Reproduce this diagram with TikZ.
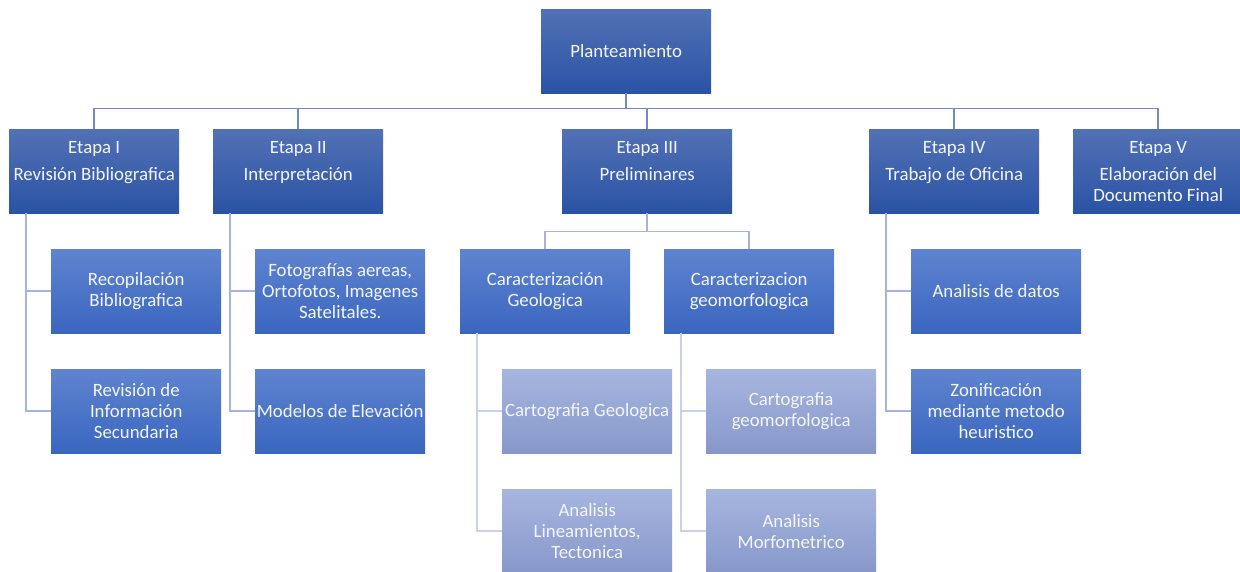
\documentclass[tikz,border=0pt]{standalone}
\usepackage{fontspec}
\setmainfont{Carlito}
\definecolor{cAtop}{HTML}{5271B5}
\definecolor{cAbot}{HTML}{2A53A5}
\definecolor{cBtop}{HTML}{5F84CF}
\definecolor{cBbot}{HTML}{3A66C0}
\definecolor{cCtop}{HTML}{A7B6DF}
\definecolor{cCbot}{HTML}{8797C9}
\definecolor{lA}{HTML}{7189CC}
\definecolor{lB}{HTML}{A5B4DF}
\definecolor{lC}{HTML}{C8D0EA}
\definecolor{txt}{HTML}{F4F6FB}
\tikzset{
  darkbox/.style={top color=cAtop, bottom color=cAbot, draw=none, text=txt,
    minimum width=170pt, minimum height=84pt, inner sep=0pt, anchor=north west,
    align=center, font=\fontsize{18.8}{21}\selectfont},
  midbox/.style={darkbox, top color=cBtop, bottom color=cBbot},
  lightbox/.style={darkbox, top color=cCtop, bottom color=cCbot},
  linkA/.style={draw=lA, line width=1.5pt},
  linkB/.style={draw=lB, line width=1.5pt},
  linkC/.style={draw=lC, line width=1.5pt},
}
\begin{document}
\begin{tikzpicture}[x=1pt,y=-1pt]
\useasboundingbox (0,0) rectangle (1240,572);
\node[darkbox] (P) at (541,9) {Planteamiento};
\node[darkbox] (E1) at (9,129) {Etapa I\\[6pt]Revisión Bibliografica\\[0pt]\mbox{}};
\node[darkbox] (E2) at (213,129) {Etapa II\\[6pt]Interpretación\\[0pt]\mbox{}};
\node[darkbox] (E3) at (562,129) {Etapa III\\[6pt]Preliminares\\[0pt]\mbox{}};
\node[darkbox] (E4) at (869,129) {Etapa IV\\[6pt]Trabajo de Oficina\\[0pt]\mbox{}};
\node[darkbox] (E5) at (1073,129) {Etapa V\\[6pt]Elaboración del\\Documento Final};
\node[midbox] (R1) at (51,249) {Recopilación\\Bibliografica};
\node[midbox] (R2) at (51,369) {Revisión de\\Información\\Secundaria};
\node[midbox] (I1) at (255,249) {Fotografías aereas,\\Ortofotos, Imagenes\\Satelitales.};
\node[midbox] (I2) at (255,369) {Modelos de Elevación};
\node[midbox] (C1) at (460,249) {Caracterización\\Geologica};
\node[midbox] (C2) at (664,249) {Caracterizacion\\geomorfologica};
\node[lightbox] (G1) at (502,369) {Cartografia Geologica};
\node[lightbox] (G2) at (502,489) {Analisis\\Lineamientos,\\Tectonica};
\node[lightbox] (M1) at (706,369) {Cartografia\\geomorfologica};
\node[lightbox] (M2) at (706,489) {Analisis\\Morfometrico};
\node[midbox] (O1) at (911,249) {Analisis de datos};
\node[midbox] (O2) at (911,369) {Zonificación\\mediante metodo\\heuristico};
% level 0 connectors
\foreach \e in {E1,E2,E3,E4,E5}
  \draw[linkA] (P.south) -- ++(0,15) -| (\e.north);
% level 1 connectors
\draw[linkB] ([xshift=17pt]E1.south west) |- (R1.west);
\draw[linkB] ([xshift=17pt]E1.south west) |- (R2.west);
\draw[linkB] ([xshift=17pt]E2.south west) |- (I1.west);
\draw[linkB] ([xshift=17pt]E2.south west) |- (I2.west);
\draw[linkB] (E3.south) -- ++(0,18) -| (C1.north);
\draw[linkB] (E3.south) -- ++(0,18) -| (C2.north);
\draw[linkB] ([xshift=17pt]E4.south west) |- (O1.west);
\draw[linkB] ([xshift=17pt]E4.south west) |- (O2.west);
% level 2 connectors
\draw[linkC] ([xshift=17pt]C1.south west) |- (G1.west);
\draw[linkC] ([xshift=17pt]C1.south west) |- (G2.west);
\draw[linkC] ([xshift=17pt]C2.south west) |- (M1.west);
\draw[linkC] ([xshift=17pt]C2.south west) |- (M2.west);
\end{tikzpicture}
\end{document}
